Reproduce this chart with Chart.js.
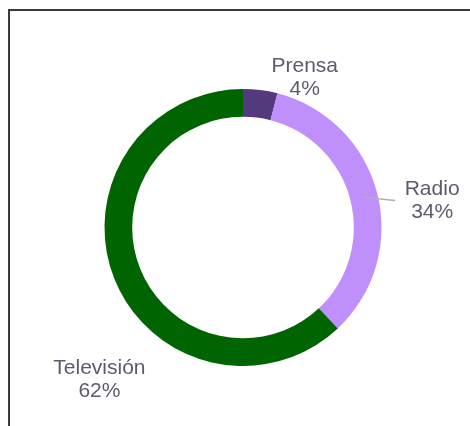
<!DOCTYPE html>
<html>
<head>
<meta charset="utf-8">
<script src="https://cdn.jsdelivr.net/npm/chart.js@4/dist/chart.umd.min.js"></script>
<style>
    html, body { margin: 0; padding: 0; background: #fff; overflow: hidden; }
    #wrap { position: relative; width: 470px; height: 426px; }
    #frame {
        position: absolute; left: 8px; top: 9px; width: 480px; height: 440px;
        border-top: 2px solid #3b3b3b; border-left: 2px solid #3b3b3b;
    }
    canvas { position: absolute; left: 0; top: 0; }
</style>
</head>
<body>
<div id="wrap">
    <div id="frame"></div>
    <canvas id="chart" width="470" height="426"></canvas>
</div>
<script>
// Media share
const labels = ['Prensa', 'Radio', 'Televisión'];
const values = [4, 34, 62];
const colors = ['#533a7c', '#bf8ffb', '#006400'];

// where each label sits: angle clockwise from top (deg), distance from centre (px)
const labelSpots = [
    { angle: 22.4, dist: 162, leader: false },
    { angle: 82.0, dist: 191, leader: true },
    { angle: 223.4, dist: 209, leader: false }
];

const outsideLabels = {
    id: 'outsideLabels',
    afterDatasetsDraw(chart) {
        const ctx = chart.ctx;
        const meta = chart.getDatasetMeta(0);
        const total = values.reduce((a, b) => a + b, 0);
        ctx.save();
        meta.data.forEach((arc, i) => {
            const spot = labelSpots[i];
            const a = spot.angle * Math.PI / 180;
            const lx = arc.x + Math.sin(a) * spot.dist;
            const ly = arc.y - Math.cos(a) * spot.dist;

            if (spot.leader) {
                const mid = (arc.startAngle + arc.endAngle) / 2;
                const r = (arc.innerRadius + arc.outerRadius) / 2;
                const sx = arc.x + Math.cos(mid) * r;
                const sy = arc.y + Math.sin(mid) * r;
                const ex = lx - 37;
                ctx.strokeStyle = '#b0b0b0';
                ctx.lineWidth = 1.5;
                ctx.beginPath();
                ctx.moveTo(sx, sy);
                ctx.lineTo(ex - 15, ly - 2);
                ctx.lineTo(ex, ly - 0.5);
                ctx.stroke();
            }

            ctx.fillStyle = '#5a5b6b';
            ctx.font = '21px "Liberation Sans", Arial, sans-serif';
            ctx.textAlign = 'center';
            ctx.textBaseline = 'middle';
            const pct = Math.round(values[i] / total * 100) + '%';
            ctx.fillText(labels[i], lx, ly - 11.5);
            ctx.fillText(pct, lx, ly + 11.5);
        });
        ctx.restore();
    }
};

new Chart(document.getElementById('chart'), {
    type: 'doughnut',
    data: {
        labels: labels,
        datasets: [{
            data: values,
            backgroundColor: colors,
            borderWidth: 0
        }]
    },
    options: {
        responsive: false,
        animation: false,
        cutout: '80%',
        layout: { padding: { left: 104.5, right: 88.5, top: 89, bottom: 60 } },
        plugins: {
            legend: { display: false },
            tooltip: { enabled: false }
        }
    },
    plugins: [outsideLabels]
});
</script>
</body>
</html>
